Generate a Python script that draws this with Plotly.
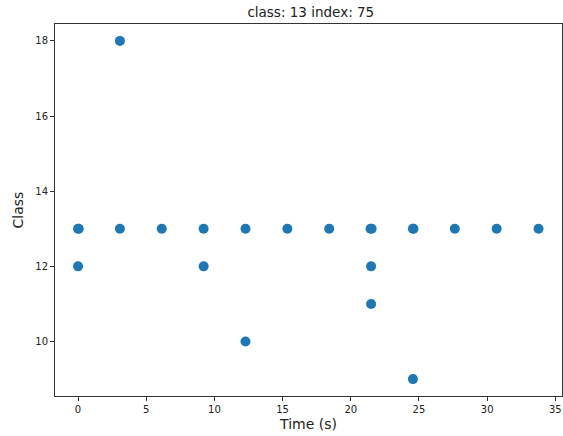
import plotly.graph_objects as go

# Detected class per time step
times = [0.0, 0.05, 0.0, 3.07, 3.07, 6.14, 9.21, 9.21, 12.28, 12.28,
         15.35, 18.42, 21.45, 21.53, 21.49, 21.49, 24.56, 24.6, 24.56,
         27.63, 30.70, 33.77]
classes = [13, 13, 12, 13, 18, 13, 13, 12, 13, 10,
           13, 13, 13, 13, 12, 11, 13, 13, 9,
           13, 13, 13]

x_ticks = [0, 5, 10, 15, 20, 25, 30, 35]
y_ticks = [10, 12, 14, 16, 18]

font = "DejaVu Sans"

fig = go.Figure(go.Scatter(
    x=times, y=classes, mode="markers",
    marker=dict(color="#1f77b4", size=10, line=dict(width=0)),
))

axis_common = dict(
    showgrid=False, zeroline=False, showline=True, mirror=True,
    linecolor="#333333", linewidth=1, ticks="outside", ticklen=4,
    tickcolor="#333333", tickwidth=1,
    tickfont=dict(family=font, size=10, color="#222222"),
)

fig.update_layout(
    width=563, height=436,
    margin=dict(l=55, r=1, t=24, b=40),
    paper_bgcolor="white", plot_bgcolor="white",
    showlegend=False,
    title=dict(text="class: 13 index: 75", x=0.552, xanchor="center",
               y=0.972, yanchor="middle",
               font=dict(family=font, size=13.5, color="#222222")),
    xaxis=dict(range=[-1.69, 35.49], tickvals=x_ticks,
               title=dict(text="Time (s)", standoff=5,
                          font=dict(family=font, size=14, color="#222222")),
               **axis_common),
    yaxis=dict(range=[8.55, 18.45], tickvals=y_ticks,
               title=dict(text="Class", standoff=8,
                          font=dict(family=font, size=14, color="#222222")),
               **axis_common),
)

fig.write_html("out.html")
